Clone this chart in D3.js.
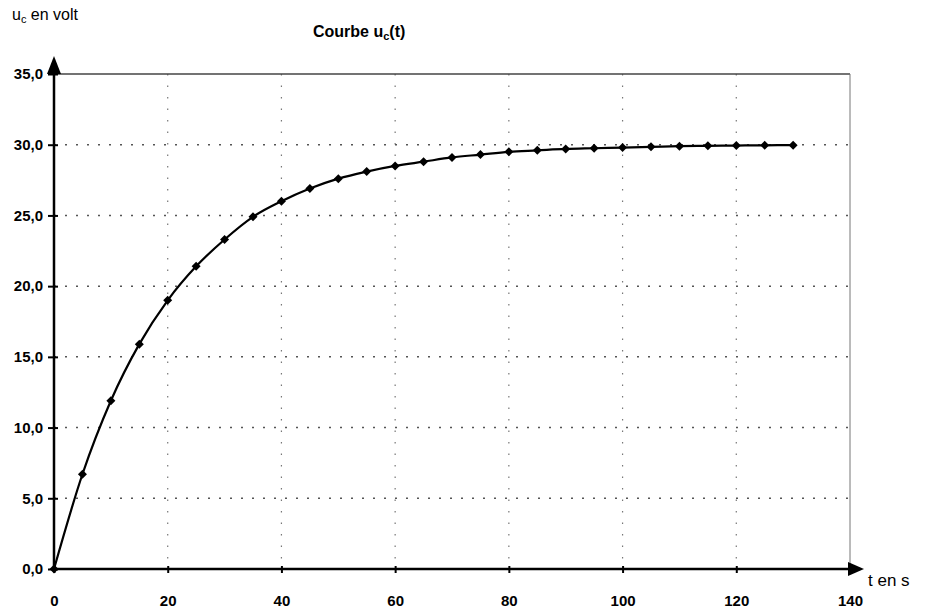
<!DOCTYPE html>
<html>
<head>
<meta charset="utf-8">
<script src="https://cdn.jsdelivr.net/npm/d3@7"></script>
<style>
  body { margin: 0; background: #fff; }
  text { font-family: "Liberation Sans", Arial, sans-serif; }
</style>
</head>
<body>
<script>
'use strict';

// time in s, every 5 s
var times = [0, 5, 10, 15, 20, 25, 30, 35, 40, 45, 50, 55, 60, 65,
             70, 75, 80, 85, 90, 95, 100, 105, 110, 115, 120, 125, 130];
// u_c in volt
var voltages = [0, 6.7, 11.9, 15.9, 19.0, 21.4, 23.3, 24.9, 26.0, 26.9, 27.6, 28.1, 28.5, 28.8,
                29.1, 29.3, 29.5, 29.6, 29.7, 29.75, 29.8, 29.85, 29.9, 29.92, 29.94, 29.96, 29.97];
var xTicks = [0, 20, 40, 60, 80, 100, 120, 140];
var yTicks = [0, 5, 10, 15, 20, 25, 30, 35];

var width = 925, height = 614;
var plotLeft = 54, plotRight = 850, plotTop = 74, plotBottom = 569;

var svg = d3.select('body').append('svg')
    .attr('width', width)
    .attr('height', height);

var x = d3.scaleLinear().domain([0, 140]).range([plotLeft, plotRight]);
var y = d3.scaleLinear().domain([0, 35]).range([plotBottom, plotTop]);

var data = times.map(function (t, i) { return {t: t, u: voltages[i]}; });

// dotted grid
svg.append('g').selectAll('line')
    .data(xTicks.slice(1, -1))
    .enter().append('line')
    .attr('x1', function (d) { return x(d); })
    .attr('x2', function (d) { return x(d); })
    .attr('y1', plotTop).attr('y2', plotBottom)
    .style('stroke', '#777').style('stroke-width', 1.2)
    .style('stroke-dasharray', '1.5,10');

svg.append('g').selectAll('line')
    .data(yTicks.slice(1, -1))
    .enter().append('line')
    .attr('x1', plotLeft).attr('x2', plotRight)
    .attr('y1', function (d) { return y(d); })
    .attr('y2', function (d) { return y(d); })
    .style('stroke', '#555').style('stroke-width', 1.5)
    .style('stroke-dasharray', '2,9');

// frame top and right
svg.append('line')
    .attr('x1', plotLeft).attr('x2', plotRight).attr('y1', y(35)).attr('y2', y(35))
    .style('stroke', '#444').style('stroke-width', 1.3);
svg.append('line')
    .attr('x1', plotRight).attr('x2', plotRight).attr('y1', y(35)).attr('y2', plotBottom)
    .style('stroke', '#777').style('stroke-width', 1);

// axes
var xAxis = d3.axisBottom(x).tickValues(xTicks).tickSize(6).tickFormat(d3.format('d'));
var gx = svg.append('g').attr('transform', 'translate(0,' + plotBottom + ')').call(xAxis);
gx.select('.domain').remove();
gx.selectAll('.tick line').attr('y1', -3).attr('y2', 4).style('stroke-width', 2);
gx.selectAll('.tick').filter(function (d) { return d === 140; }).select('line').remove();
gx.selectAll('.tick text')
    .attr('y', 26).attr('dy', '0.71em')
    .style('font-size', '15px').style('font-weight', 'bold').style('fill', '#000');

var yAxis = d3.axisLeft(y).tickValues(yTicks).tickSize(6)
    .tickFormat(function (d) { return d3.format('.1f')(d).replace('.', ','); });
var gy = svg.append('g').attr('transform', 'translate(' + plotLeft + ',0)').call(yAxis);
gy.select('.domain').remove();
gy.selectAll('.tick line').attr('x1', -6).attr('x2', 4).style('stroke-width', 2);
gy.selectAll('.tick text')
    .attr('x', -11)
    .style('font-size', '15px').style('font-weight', 'bold').style('fill', '#000');

// axis lines with arrows
svg.append('line')
    .attr('x1', plotLeft).attr('x2', 850).attr('y1', plotBottom).attr('y2', plotBottom)
    .style('stroke', '#000').style('stroke-width', 2.5);
svg.append('path')
    .attr('d', 'M848,' + (plotBottom - 7) + 'L864,' + plotBottom + 'L848,' + (plotBottom + 7) + 'Z')
    .style('fill', '#000');
svg.append('line')
    .attr('x1', plotLeft).attr('x2', plotLeft).attr('y1', plotBottom).attr('y2', 72)
    .style('stroke', '#000').style('stroke-width', 2.5);
svg.append('path')
    .attr('d', 'M' + (plotLeft - 7) + ',74L' + plotLeft + ',56L' + (plotLeft + 7) + ',74Z')
    .style('fill', '#000');

// curve
var line = d3.line()
    .x(function (d) { return x(d.t); })
    .y(function (d) { return y(d.u); })
    .curve(d3.curveMonotoneX);

svg.append('path')
    .datum(data)
    .attr('d', line)
    .style('fill', 'none').style('stroke', '#000').style('stroke-width', 2.2);

// diamond markers
svg.append('g').selectAll('path')
    .data(data)
    .enter().append('path')
    .attr('transform', function (d) { return 'translate(' + x(d.t) + ',' + y(d.u) + ')'; })
    .attr('d', 'M0,-4.5L4.5,0L0,4.5L-4.5,0Z')
    .style('fill', '#000');

// labels
var yLab = svg.append('text').attr('x', 12).attr('y', 20).style('font-size', '16px');
yLab.append('tspan').text('u');
yLab.append('tspan').attr('dy', 3).style('font-size', '11px').text('c');
yLab.append('tspan').attr('dy', -3).text(' en volt');

var title = svg.append('text').attr('x', 313).attr('y', 37)
    .style('font-size', '16px').style('font-weight', 'bold');
title.append('tspan').text('Courbe u');
title.append('tspan').attr('dy', 3).style('font-size', '11px').text('c');
title.append('tspan').attr('dy', -3).text('(t)');

svg.append('text').attr('x', 868).attr('y', 586)
    .style('font-size', '17px').text('t en s');
</script>
</body>
</html>
